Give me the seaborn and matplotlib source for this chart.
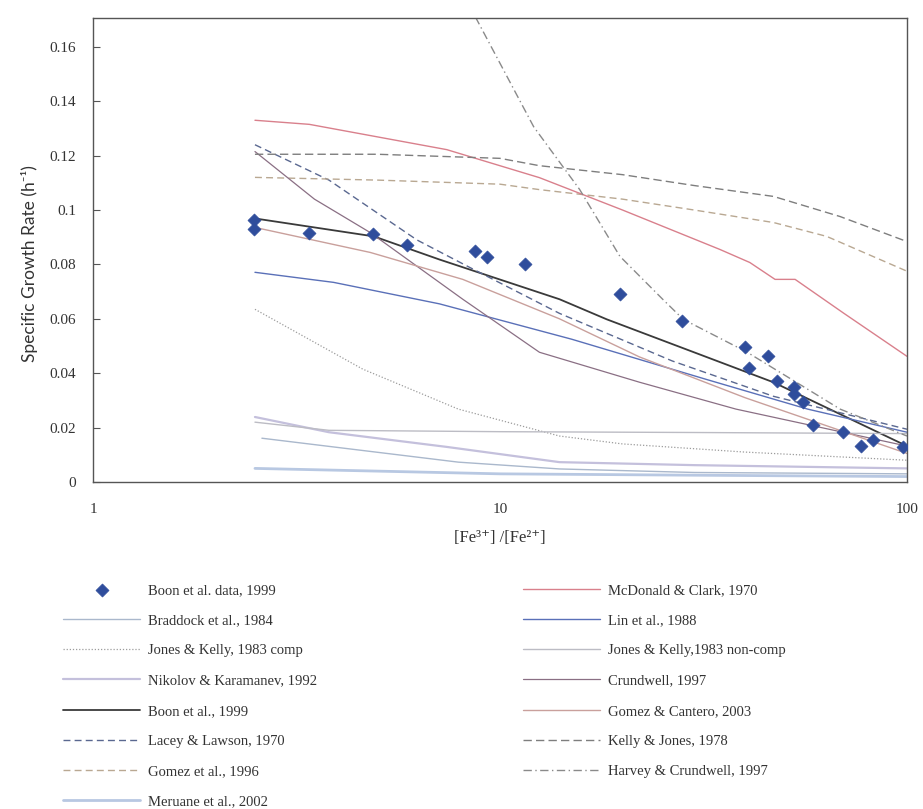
import matplotlib
matplotlib.use("Agg")
import matplotlib.pyplot as plt
import seaborn as sns

sns.set_theme(style="white")
plt.rcParams['font.family'] = ['Liberation Serif', 'DejaVu Serif']

# ---------------- data ----------------
boon_data_x = [2.49, 2.49, 3.39, 4.87, 5.91, 8.68, 9.29, 11.5, 19.7, 28.0, 40.0, 45.6,
               40.9, 47.9, 52.8, 52.8, 55.5, 58.7, 69.6, 77.1, 82.5, 97.8]
boon_data_y = [0.0965, 0.0932, 0.0914, 0.0910, 0.0873, 0.0848, 0.0826, 0.0800, 0.0690,
               0.0591, 0.0495, 0.0462, 0.0418, 0.0371, 0.0349, 0.0323, 0.0294, 0.0209,
               0.0183, 0.0132, 0.0154, 0.0128]

mcdonald_x = [2.5, 3.4, 7.4, 12.5, 20, 34.7, 41.1, 47.4, 53.1, 70, 100]
mcdonald_y = [0.133, 0.1315, 0.1222, 0.1119, 0.100, 0.0855, 0.0807, 0.0745, 0.0745, 0.062, 0.0462]

kelly_x = [2.5, 5, 10, 12.5, 20, 30, 47, 68.5, 100]
kelly_y = [0.1205, 0.1205, 0.119, 0.1163, 0.113, 0.109, 0.105, 0.0976, 0.0884]

gomez96_x = [2.5, 5, 10, 12.5, 20, 30, 47, 63.5, 100]
gomez96_y = [0.112, 0.111, 0.1095, 0.1075, 0.104, 0.100, 0.0954, 0.0903, 0.0775]

harvey_x = [8.7, 12.1, 15.7, 19.7, 25.1, 28.2, 40.5, 68.5, 100]
harvey_y = [0.171, 0.1306, 0.1075, 0.083, 0.0672, 0.0598, 0.0477, 0.0268, 0.0169]

boon99_x = [2.5, 4.9, 7.1, 14, 18.3, 46.9, 100]
boon99_y = [0.0969, 0.0903, 0.0818, 0.0672, 0.0598, 0.0367, 0.0132]

lacey_x = [2.5, 3.8, 6.25, 8.4, 14, 26.5, 47, 100]
lacey_y = [0.124, 0.111, 0.089, 0.079, 0.062, 0.0445, 0.0315, 0.0194]

crundwell_x = [2.5, 3.5, 4.8, 8.1, 12.5, 22, 38, 100]
crundwell_y = [0.1215, 0.104, 0.0917, 0.0672, 0.0477, 0.0367, 0.0268, 0.0132]

cantero_x = [2.5, 4.8, 8.1, 14, 22, 40, 100]
cantero_y = [0.0936, 0.0844, 0.0745, 0.060, 0.046, 0.031, 0.0105]

lin_x = [2.5, 3.9, 7.1, 15, 32, 57, 100]
lin_y = [0.0771, 0.0734, 0.0655, 0.0525, 0.0378, 0.0268, 0.0183]

jk_comp_x = [2.5, 4.6, 7.9, 14, 20, 40, 100]
jk_comp_y = [0.0635, 0.0415, 0.0268, 0.0169, 0.014, 0.011, 0.008]

jk_noncomp_x = [2.5, 3.8, 10, 30, 100]
jk_noncomp_y = [0.022, 0.019, 0.0185, 0.0182, 0.0178]

nikolov_x = [2.5, 3.8, 7.4, 14, 30, 100]
nikolov_y = [0.0239, 0.0183, 0.0129, 0.0073, 0.0062, 0.005]

braddock_x = [2.6, 7.9, 14, 30, 100]
braddock_y = [0.0161, 0.0073, 0.0048, 0.0035, 0.003]

meruane_x = [2.5, 10, 30, 100]
meruane_y = [0.005, 0.003, 0.0025, 0.002]

y_ticks = [0, 0.02, 0.04, 0.06, 0.08, 0.1, 0.12, 0.14, 0.16]
y_tick_labels = ["0", "0.02", "0.04", "0.06", "0.08", "0.1", "0.12", "0.14", "0.16"]
x_ticks = [1, 10, 100]
x_tick_labels = ["1", "10", "100"]

# ---------------- figure ----------------
W, H = 923, 809
fig = plt.figure(figsize=(W / 100, H / 100), dpi=100)
fig.patch.set_facecolor("white")
ax = fig.add_axes([93 / W, 1 - 482 / H, (907 - 93) / W, (482 - 18) / H])
ax.set_facecolor("white")

series = [
    ("Braddock et al., 1984", braddock_x, braddock_y, dict(color="#aab8cc", lw=1.0, ls="-")),
    ("Jones & Kelly, 1983 comp", jk_comp_x, jk_comp_y, dict(color="#9c9c9c", lw=0.9, ls=(0, (1, 1.5)))),
    ("Nikolov & Karamanev, 1992", nikolov_x, nikolov_y, dict(color="#c4c0dc", lw=1.6, ls="-")),
    ("Boon et al., 1999", boon99_x, boon99_y, dict(color="#3a3a3a", lw=1.3, ls="-")),
    ("Lacey & Lawson, 1970", lacey_x, lacey_y, dict(color="#5a6890", lw=1.0, ls=(0, (5, 3)))),
    ("Gomez et al., 1996", gomez96_x, gomez96_y, dict(color="#b9a892", lw=1.0, ls=(0, (5, 3)))),
    ("Meruane et al., 2002", meruane_x, meruane_y, dict(color="#b8c8e2", lw=2.0, ls="-")),
    ("McDonald & Clark, 1970", mcdonald_x, mcdonald_y, dict(color="#d9808c", lw=1.0, ls="-")),
    ("Lin et al., 1988", lin_x, lin_y, dict(color="#5a70b8", lw=1.0, ls="-")),
    ("Jones & Kelly,1983 non-comp", jk_noncomp_x, jk_noncomp_y, dict(color="#bcbcc4", lw=1.0, ls="-")),
    ("Crundwell, 1997", crundwell_x, crundwell_y, dict(color="#8a6f84", lw=0.9, ls="-")),
    ("Gomez & Cantero, 2003", cantero_x, cantero_y, dict(color="#c9a09c", lw=1.0, ls="-")),
    ("Kelly & Jones, 1978", kelly_x, kelly_y, dict(color="#7e7e7e", lw=1.0, ls=(0, (6, 3)))),
    ("Harvey & Crundwell, 1997", harvey_x, harvey_y, dict(color="#8a8a8a", lw=1.0, ls=(0, (6, 2.5, 1, 2.5)))),
]

for name, xs, ys, st in series:
    sns.lineplot(x=xs, y=ys, ax=ax, sort=False, estimator=None, label=name,
                 color=st["color"], linewidth=st["lw"], linestyle=st["ls"])

sns.scatterplot(x=boon_data_x, y=boon_data_y, ax=ax, marker="D", s=44,
                color="#2f4d9c", edgecolor="#2f4d9c", linewidth=0.5,
                label="Boon et al. data, 1999", zorder=6)

ax.set_xscale("log")
ax.set_xlim(1, 100)
ax.set_ylim(0, 0.1706)
ax.set_xticks(x_ticks)
ax.set_xticklabels(x_tick_labels)
ax.xaxis.set_minor_locator(matplotlib.ticker.NullLocator())
ax.set_yticks(y_ticks)
ax.set_yticklabels(y_tick_labels)
ax.tick_params(axis="y", direction="in", length=5, width=0.8, color="#555555",
               pad=12, labelsize=11, labelcolor="#333333", left=True)
ax.tick_params(axis="x", direction="in", length=0, pad=15, labelsize=11, labelcolor="#333333")
for sp in ax.spines.values():
    sp.set_visible(True)
    sp.set_color("#555555")
    sp.set_linewidth(1.0)
ax.grid(False)

ax.set_xlabel("[Fe³⁺] /[Fe²⁺]", fontsize=12, color="#333333", labelpad=10)
ax.set_ylabel("Specific Growth Rate (h⁻¹)", fontsize=12.5, color="#333333",
              family=["Lato", "DejaVu Sans"])
ax.yaxis.set_label_coords(-0.067, 0.47)

# ---------------- legends ----------------
handles, labels = ax.get_legend_handles_labels()
hmap = dict(zip(labels, handles))
if ax.get_legend() is not None:
    ax.get_legend().remove()

left_names = ["Boon et al. data, 1999", "Braddock et al., 1984", "Jones & Kelly, 1983 comp",
              "Nikolov & Karamanev, 1992", "Boon et al., 1999", "Lacey & Lawson, 1970",
              "Gomez et al., 1996", "Meruane et al., 2002"]
right_names = ["McDonald & Clark, 1970", "Lin et al., 1988", "Jones & Kelly,1983 non-comp",
               "Crundwell, 1997", "Gomez & Cantero, 2003", "Kelly & Jones, 1978",
               "Harvey & Crundwell, 1997"]

common = dict(loc="upper left", frameon=False, fontsize=10.5, handlelength=5.3,
              handletextpad=0.55, labelspacing=1.16, borderpad=0, borderaxespad=0,
              labelcolor="#333333")
leg1 = fig.legend([hmap[n] for n in left_names], left_names,
                  bbox_to_anchor=(63 / W, 1 - 584 / H), **common)
leg2 = fig.legend([hmap[n] for n in right_names], right_names,
                  bbox_to_anchor=(523 / W, 1 - 584 / H), **common)

fig.savefig("out.png", dpi=100, facecolor="white")
